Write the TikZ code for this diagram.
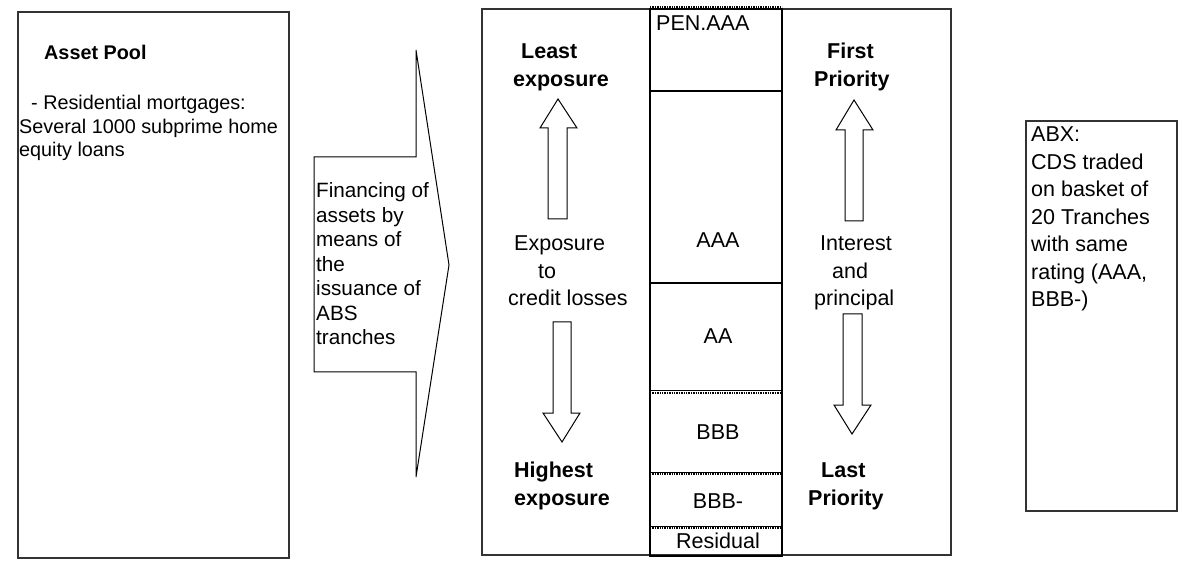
\documentclass[tikz,border=0pt]{standalone}
\usepackage{fontspec}
\setmainfont{Liberation Sans}
\begin{document}
\begin{tikzpicture}[x=1pt,y=-1pt,
  box/.style={draw=black!80, line width=1.1pt},
  col/.style={draw=black, line width=1.6pt},
  dots/.style={draw=black, line width=1.6pt, dash pattern=on 1.3pt off 1.1pt},
  shp/.style={draw=black, line width=1pt, fill=white, line join=miter},
  lbl/.style={inner sep=0pt, anchor=base west, font=\fontsize{21.5}{26}\selectfont},
  lblb/.style={lbl, font=\fontsize{21.5}{26}\selectfont\bfseries},
  sml/.style={inner sep=0pt, anchor=base west, font=\fontsize{19.8}{24}\selectfont},
  smlb/.style={sml, font=\fontsize{19.8}{24}\selectfont\bfseries},
  tr/.style={inner sep=0pt, anchor=base, font=\fontsize{21.5}{26}\selectfont}]
\useasboundingbox (0,0) rectangle (1200,569);
\fill[white] (0,0) rectangle (1200,569);

% Asset pool box
\draw[box] (18,12) rectangle (289,558);
\node[smlb] (ap) at (44,60) {Asset Pool};
\node[sml] (ap1) at (31,110) {- Residential mortgages:};
\node[sml] (ap2) at (19,134) {Several 1000 subprime home};
\node[sml] (ap3) at (19,157) {equity loans};

% big arrow
\draw[shp] (314,157) -- (416,157) -- (416,50) -- (449,265) -- (416,477) -- (416,372) -- (314,372) -- cycle;
\node[sml, font=\fontsize{20.7}{24}\selectfont] (f1) at (316,198) {Financing of};
\node[sml, font=\fontsize{20.7}{24}\selectfont] (f2) at (316,222.5) {assets by};
\node[sml, font=\fontsize{20.7}{24}\selectfont] (f3) at (316,247) {means of};
\node[sml, font=\fontsize{20.7}{24}\selectfont] (f4) at (316,271.5) {the};
\node[sml, font=\fontsize{20.7}{24}\selectfont] (f5) at (316,296) {issuance of};
\node[sml, font=\fontsize{20.7}{24}\selectfont] (f6) at (316,320.5) {ABS};
\node[sml, font=\fontsize{20.7}{24}\selectfont] (f7) at (316,345) {tranches};

% main box
\draw[box] (482,9) rectangle (951,555);

% tranche column
\draw[col] (650,9) rectangle (782,556);
\draw[dots] (650,7) -- (782,7);
\draw[col] (650,91) -- (782,91);
\draw[col] (650,283) -- (782,283);
\draw[line width=1pt] (650,391) -- (782,391);
\draw[dots] (650,393) -- (782,393);
\draw[line width=1pt] (650,472) -- (782,472);
\draw[dots] (650,474) -- (782,474);
\draw[line width=1pt] (650,526) -- (782,526);
\draw[dots] (650,528) -- (782,528);
\node[lbl] (pen) at (656,31) {PEN.AAA};
\node[tr] (aaa) at (718,248) {AAA};
\node[tr] (aa) at (718,344) {AA};
\node[tr] (bbb) at (718,439) {BBB};
\node[tr] (bbbm) at (718,508) {BBB-};
\node[tr] (res) at (718,548) {Residual};

% left texts
\node[lblb] (le1) at (521,59) {Least};
\node[lblb] (le2) at (513,87) {exposure};
\node[lbl] (ex1) at (514,251) {Exposure};
\node[lbl] (ex2) at (538,278.5) {to};
\node[lbl] (ex3) at (508,306) {credit losses};
\node[lblb] (he1) at (514,477) {Highest};
\node[lblb] (he2) at (514,505) {exposure};

% right texts
\node[lblb] (fp1) at (827,59) {First};
\node[lblb] (fp2) at (814,87) {Priority};
\node[lbl] (ip1) at (820,251) {Interest};
\node[lbl] (ip2) at (832,278.5) {and};
\node[lbl] (ip3) at (814,306) {principal};
\node[lblb] (lp1) at (821,477) {Last};
\node[lblb] (lp2) at (808,505) {Priority};

% small arrows
\draw[shp] (558,99) -- (577,128) -- (567,128) -- (567,219) -- (548,219) -- (548,128) -- (540,128) -- cycle;
\draw[shp] (562,442) -- (580,413) -- (571,413) -- (571,322) -- (553,322) -- (553,413) -- (543,413) -- cycle;
\draw[shp] (854,100) -- (873,130) -- (863,130) -- (863,221) -- (845,221) -- (845,130) -- (836,130) -- cycle;
\draw[shp] (852,434) -- (871,405) -- (862,405) -- (862,314) -- (843,314) -- (843,405) -- (834,405) -- cycle;

% ABX box
\draw[box] (1026,121) rectangle (1177,511);
\node[lbl] (abx1) at (1031,142) {ABX:};
\node[lbl] (abx2) at (1031,169.5) {CDS traded};
\node[lbl] (abx3) at (1031,197) {on basket of};
\node[lbl] (abx4) at (1031,224.5) {20 Tranches};
\node[lbl] (abx5) at (1031,252) {with same};
\node[lbl] (abx6) at (1031,279.5) {rating (AAA,};
\node[lbl] (abx7) at (1031,307) {BBB-)};
\end{tikzpicture}
\end{document}
